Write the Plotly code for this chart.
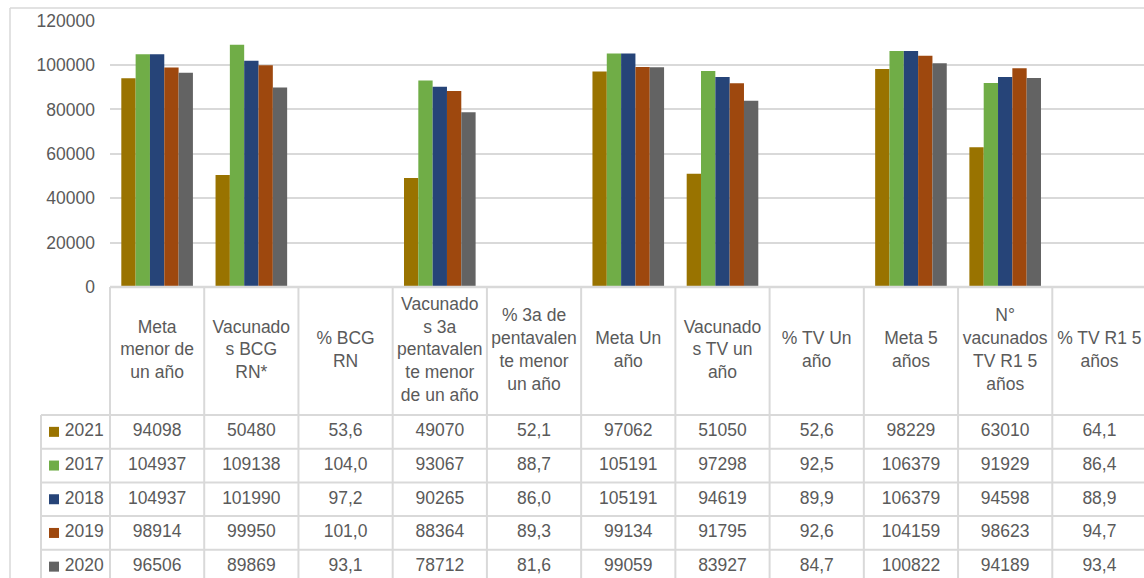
import plotly.graph_objects as go

# categories as wrapped in the source table header
categories = [
    "Meta<br>menor de<br>un año",
    "Vacunado<br>s BCG<br>RN*",
    "% BCG<br>RN",
    "Vacunado<br>s 3a<br>pentavalen<br>te menor<br>de un año",
    "% 3a de<br>pentavalen<br>te menor<br>un año",
    "Meta Un<br>año",
    "Vacunado<br>s TV un<br>año",
    "% TV Un<br>año",
    "Meta 5<br>años",
    "N°<br>vacunados<br>TV R1 5<br>años",
    "% TV R1 5<br>años",
]

years = ["2021", "2017", "2018", "2019", "2020"]
v2021 = [94098, 50480, 53.6, 49070, 52.1, 97062, 51050, 52.6, 98229, 63010, 64.1]
v2017 = [104937, 109138, 104.0, 93067, 88.7, 105191, 97298, 92.5, 106379, 91929, 86.4]
v2018 = [104937, 101990, 97.2, 90265, 86.0, 105191, 94619, 89.9, 106379, 94598, 88.9]
v2019 = [98914, 99950, 101.0, 88364, 89.3, 99134, 91795, 92.6, 104159, 98623, 94.7]
v2020 = [96506, 89869, 93.1, 78712, 81.6, 99059, 83927, 84.7, 100822, 94189, 93.4]
series = [v2021, v2017, v2018, v2019, v2020]
colors = ["#997300", "#70AD47", "#264478", "#9E480E", "#636363"]

y_ticks = [0, 20000, 40000, 60000, 80000, 100000, 120000]

TEXT = "#5a5a5a"
LINE = "#d9d9d9"
FONT = "Liberation Sans, Arial, sans-serif"
FS = 17.5

# pixel layout of the Excel chart
W, H = 1144, 578
PLOT_L, COL_W = 110, 94.23
TOP_Y, ZERO_Y = 20.7, 287
HEAD_B, ROW_H = 415, 33.7
LAB_L = 41


def fmt(v, pct):
    return f"{v:.1f}".replace(".", ",") if pct else f"{v:.0f}"


is_pct = [c.startswith("%") for c in categories]
xs = list(range(len(categories)))
rows = list(range(len(years)))

fig = go.Figure()

for yr, vals, col in zip(years, series, colors):
    fig.add_trace(go.Bar(
        x=xs, y=vals, name=yr, marker_color=col, marker_line_width=0,
        xaxis="x", yaxis="y", showlegend=False,
    ))

# header cells
head_y = -0.5 - (HEAD_B - (ZERO_Y + HEAD_B) / 2) / ROW_H
fig.add_trace(go.Scatter(
    x=xs, y=[head_y] * len(xs), text=categories, mode="text",
    textfont={"size": FS, "color": TEXT, "family": FONT},
    xaxis="x2", yaxis="y2", showlegend=False, hoverinfo="skip",
))

# data cells
for r, vals in zip(rows, series):
    fig.add_trace(go.Scatter(
        x=xs, y=[r] * len(xs), text=[fmt(v, p) for v, p in zip(vals, is_pct)],
        mode="text", textfont={"size": FS, "color": TEXT, "family": FONT},
        xaxis="x2", yaxis="y2", showlegend=False, hoverinfo="skip",
    ))

# row labels with legend keys
key_x = -0.5 - (PLOT_L - 54) / COL_W
fig.add_trace(go.Scatter(
    x=[key_x] * len(years), y=rows, text=["\u2009" + y for y in years], mode="markers+text",
    marker={"symbol": "square", "size": 10, "color": colors},
    textposition="middle right",
    textfont={"size": FS, "color": TEXT, "family": FONT},
    xaxis="x2", yaxis="y2", showlegend=False, hoverinfo="skip",
))

# table borders
x_right = -0.5 + (W - PLOT_L) / COL_W
lab_x = -0.5 - (PLOT_L - LAB_L) / COL_W
head_top = -0.5 - (HEAD_B - ZERO_Y) / ROW_H
bottom = -0.5 + (H - HEAD_B) / ROW_H
shapes = []
for k in range(len(categories) + 1):
    shapes.append(dict(type="line", xref="x2", yref="y2", x0=k - 0.5, x1=k - 0.5,
                       y0=head_top, y1=bottom + 1, line={"color": LINE, "width": 2}))
shapes.append(dict(type="line", xref="x2", yref="y2", x0=lab_x, x1=lab_x,
                   y0=-0.5, y1=bottom + 1, line={"color": LINE, "width": 2}))
for r in range(len(years) + 1):
    shapes.append(dict(type="line", xref="x2", yref="y2", x0=lab_x, x1=len(categories),
                       y0=r - 0.5, y1=r - 0.5, line={"color": LINE, "width": 2}))
# category axis line drawn over the (near-zero) percentage bars
axis_y = (H - ZERO_Y) / H
shapes.append(dict(type="line", xref="paper", yref="paper", x0=PLOT_L / W, x1=1.01,
                   y0=axis_y, y1=axis_y, line={"color": LINE, "width": 2.5}))
# chart area border (top and left)
shapes.append(dict(type="line", xref="paper", yref="paper", x0=10 / W, x1=1.02,
                   y0=1 - 8 / H, y1=1 - 8 / H, line={"color": LINE, "width": 1.5}))
shapes.append(dict(type="line", xref="paper", yref="paper", x0=10 / W, x1=10 / W,
                   y0=1 - 8 / H, y1=-0.02, line={"color": LINE, "width": 1.5}))

pad = 4
fig.update_layout(
    width=W, height=H,
    margin={"l": 0, "r": 0, "t": 0, "b": 0, "autoexpand": False},
    paper_bgcolor="white", plot_bgcolor="white",
    font={"family": FONT, "color": TEXT, "size": FS},
    barmode="group", bargap=0.24, bargroupgap=0,
    shapes=shapes,
    xaxis={"domain": [PLOT_L / W, 1], "range": [-0.5, x_right], "showgrid": False,
           "showticklabels": False, "zeroline": False, "showline": False, "automargin": False,
           "anchor": "y"},
    yaxis={"domain": [(H - ZERO_Y) / H, (H - TOP_Y) / H], "range": [0, 120000],
           "tickvals": y_ticks, "tickformat": "d", "showgrid": True, "automargin": False,
           "gridcolor": LINE, "gridwidth": 2, "zeroline": False,
           "ticklabelstandoff": 14, "tickfont": {"size": FS, "color": TEXT}, "anchor": "x"},
    xaxis2={"domain": [(LAB_L - pad) / W, 1], "automargin": False,
            "range": [lab_x - pad / COL_W, x_right], "visible": False, "anchor": "y2"},
    yaxis2={"domain": [0, (H - ZERO_Y) / H], "range": [bottom, head_top], "automargin": False,
            "visible": False, "anchor": "x2"},
)

fig.write_html(
    "out.html",
    config={"displayModeBar": False},
    post_script="document.body.style.margin='0';document.body.style.overflow='hidden';",
)
